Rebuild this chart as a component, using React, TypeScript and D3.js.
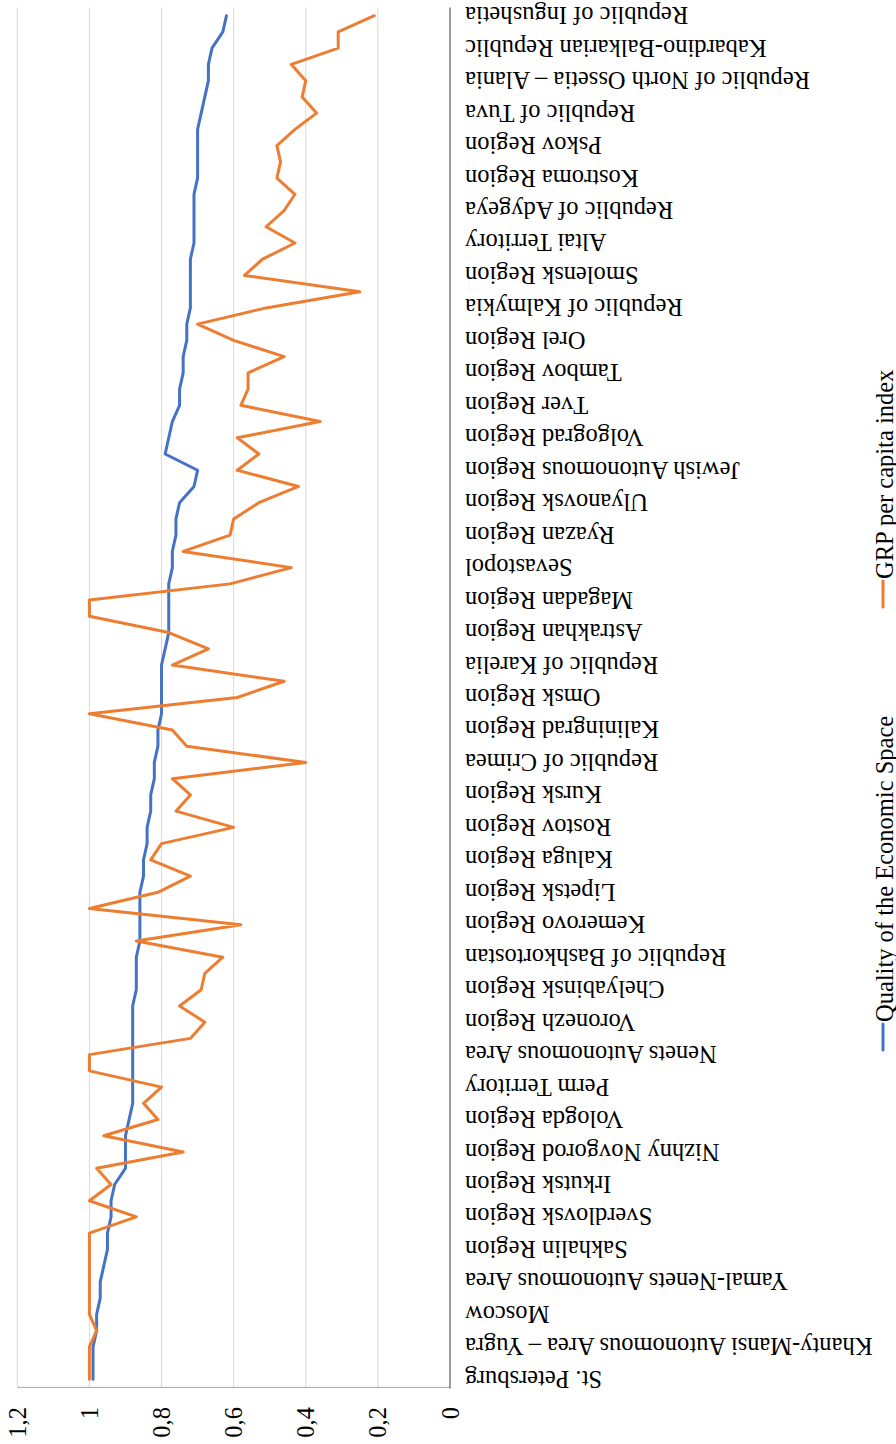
import { useEffect, useRef } from "react"
import * as d3 from "d3"

// visible category labels (every second region is labelled)
const regionLabels = [
  "St. Petersburg",
  "Khanty-Mansi Autonomous Area – Yugra",
  "Moscow",
  "Yamal-Nenets Autonomous Area",
  "Sakhalin Region",
  "Sverdlovsk Region",
  "Irkutsk Region",
  "Nizhny Novgorod Region",
  "Vologda Region",
  "Perm Territory",
  "Nenets Autonomous Area",
  "Voronezh Region",
  "Chelyabinsk Region",
  "Republic of Bashkortostan",
  "Kemerovo Region",
  "Lipetsk Region",
  "Kaluga Region",
  "Rostov Region",
  "Kursk Region",
  "Republic of Crimea",
  "Kaliningrad Region",
  "Omsk Region",
  "Republic of Karelia",
  "Astrakhan Region",
  "Magadan Region",
  "Sevastopol",
  "Ryazan Region",
  "Ulyanovsk Region",
  "Jewish Autonomous Region",
  "Volgograd Region",
  "Tver Region",
  "Tambov Region",
  "Orel Region",
  "Republic of Kalmykia",
  "Smolensk Region",
  "Altai Territory",
  "Republic of Adygeya",
  "Kostroma Region",
  "Pskov Region",
  "Republic of Tuva",
  "Republic of North Ossetia – Alania",
  "Kabardino-Balkarian Republic",
  "Republic of Ingushetia",
]

// 85 regions, in chart order
const qualityIndex = [
  0.99, 0.99, 0.99, 0.98, 0.98, 0.97, 0.97, 0.96, 0.95, 0.95,
  0.94, 0.94, 0.93, 0.90, 0.90, 0.90, 0.89, 0.88, 0.88, 0.88,
  0.88, 0.88, 0.88, 0.88, 0.87, 0.87, 0.87, 0.86, 0.86, 0.86,
  0.86, 0.85, 0.85, 0.84, 0.84, 0.83, 0.83, 0.82, 0.82, 0.81,
  0.81, 0.80, 0.80, 0.80, 0.80, 0.79, 0.78, 0.78, 0.78, 0.78,
  0.77, 0.77, 0.76, 0.76, 0.75, 0.71, 0.70, 0.79, 0.78, 0.77,
  0.75, 0.75, 0.74, 0.74, 0.73, 0.73, 0.72, 0.72, 0.72, 0.72,
  0.71, 0.71, 0.71, 0.71, 0.70, 0.70, 0.70, 0.70, 0.69, 0.68,
  0.67, 0.67, 0.66, 0.63, 0.62,
]

const grpIndex = [
  1.0, 1.0, 1.0, 0.98, 1.0, 1.0, 1.0, 1.0, 1.0, 1.0,
  0.87, 1.0, 0.94, 0.98, 0.74, 0.96, 0.81, 0.85, 0.80, 1.0,
  1.0, 0.72, 0.68, 0.75, 0.69, 0.68, 0.63, 0.87, 0.58, 1.0,
  0.81, 0.72, 0.83, 0.80, 0.60, 0.76, 0.72, 0.77, 0.40, 0.73,
  0.77, 1.0, 0.59, 0.46, 0.77, 0.67, 0.78, 1.0, 1.0, 0.61,
  0.44, 0.74, 0.61, 0.60, 0.53, 0.42, 0.59, 0.53, 0.59, 0.36,
  0.58, 0.56, 0.56, 0.46, 0.60, 0.70, 0.51, 0.25, 0.57, 0.52,
  0.43, 0.51, 0.46, 0.43, 0.48, 0.47, 0.48, 0.43, 0.37, 0.41,
  0.40, 0.44, 0.31, 0.31, 0.21,
]

const seriesNames = ["Quality of the Economic Space", "GRP per capita index"]
const seriesColors = ["#4472C4", "#ED7D31"]

export default function App() {
  const svgRef = useRef<SVGSVGElement>(null)

  useEffect(() => {
    if (!svgRef.current) return
    const svg = d3.select(svgRef.current)
    svg.selectAll("*").remove()

    const font = "'Liberation Serif', 'Times New Roman', serif"
    const fontSize = "24.5px"

    // the chart is drawn turned on its side: values run right-to-left
    const xScale = d3.scaleLinear().domain([0, 1.2]).range([450, 17.3])
    const yScale = d3
      .scaleBand<number>()
      .domain(d3.range(qualityIndex.length))
      .range([1387.4, 7.6])
    const yPos = (i: number) => (yScale(i) || 0) + yScale.bandwidth() / 2

    const [plotBottom, plotTop] = [1387.4, 7.6]

    // Grid lines
    const ticks = xScale.ticks(6)
    svg
      .append("g")
      .selectAll("line")
      .data(ticks.filter((t) => t > 0))
      .enter()
      .append("line")
      .attr("x1", (d) => xScale(d))
      .attr("x2", (d) => xScale(d))
      .attr("y1", plotTop)
      .attr("y2", plotBottom)
      .attr("stroke", "#d9d9d9")
      .attr("stroke-width", 1)

    // value axis line (bottom) and category axis line (right)
    svg
      .append("line")
      .attr("x1", xScale(1.2))
      .attr("x2", xScale(0))
      .attr("y1", plotBottom)
      .attr("y2", plotBottom)
      .attr("stroke", "#a6a6a6")
      .attr("stroke-width", 1)

    svg
      .append("line")
      .attr("x1", xScale(0))
      .attr("x2", xScale(0))
      .attr("y1", plotTop)
      .attr("y2", plotBottom + 1)
      .attr("stroke", "#595959")
      .attr("stroke-width", 1.2)

    // tick labels
    const fmt = d3.formatLocale({ decimal: ",", thousands: " ", grouping: [3], currency: ["", ""] }).format(".1~f")
    ticks.forEach((t) => {
      svg
        .append("text")
        .attr("transform", `translate(${xScale(t)},1407) rotate(-90)`)
        .attr("text-anchor", "end")
        .attr("dominant-baseline", "central")
        .attr("font-family", font)
        .attr("font-size", fontSize)
        .attr("fill", "#000")
        .text(fmt(t))
    })

    // category labels, upside down
    regionLabels.forEach((label, k) => {
      svg
        .append("text")
        .attr("transform", `translate(465,${yPos(k * 2)}) rotate(180)`)
        .attr("text-anchor", "end")
        .attr("dominant-baseline", "central")
        .attr("font-family", font)
        .attr("font-size", fontSize)
        .attr("fill", "#000")
        .text(label)
    })

    // lines
    const line = d3
      .line<number>()
      .x((d) => xScale(d))
      .y((_, i) => yPos(i))

    ;[qualityIndex, grpIndex].forEach((values, s) => {
      svg
        .append("path")
        .datum(values)
        .attr("d", line)
        .attr("fill", "none")
        .attr("stroke", seriesColors[s])
        .attr("stroke-width", 3)
        .attr("stroke-linejoin", "round")
        .attr("stroke-linecap", "round")
    })

    // legend (reads bottom to top)
    const legendStarts = [1050, 607]
    seriesNames.forEach((name, s) => {
      const y0 = legendStarts[s]
      svg
        .append("line")
        .attr("x1", 883)
        .attr("x2", 883)
        .attr("y1", y0)
        .attr("y2", y0 - 26)
        .attr("stroke", seriesColors[s])
        .attr("stroke-width", 3)
        .attr("stroke-linecap", "round")
      svg
        .append("text")
        .attr("transform", `translate(884,${y0 - 28}) rotate(-90)`)
        .attr("text-anchor", "start")
        .attr("dominant-baseline", "central")
        .attr("font-family", font)
        .attr("font-size", fontSize)
        .attr("fill", "#000")
        .text(name)
    })
  }, [])

  return (
    <svg
      ref={svgRef}
      width={896}
      height={1444}
      style={{ display: "block", position: "absolute", left: 0, top: 0, background: "#fff" }}
    />
  )
}
